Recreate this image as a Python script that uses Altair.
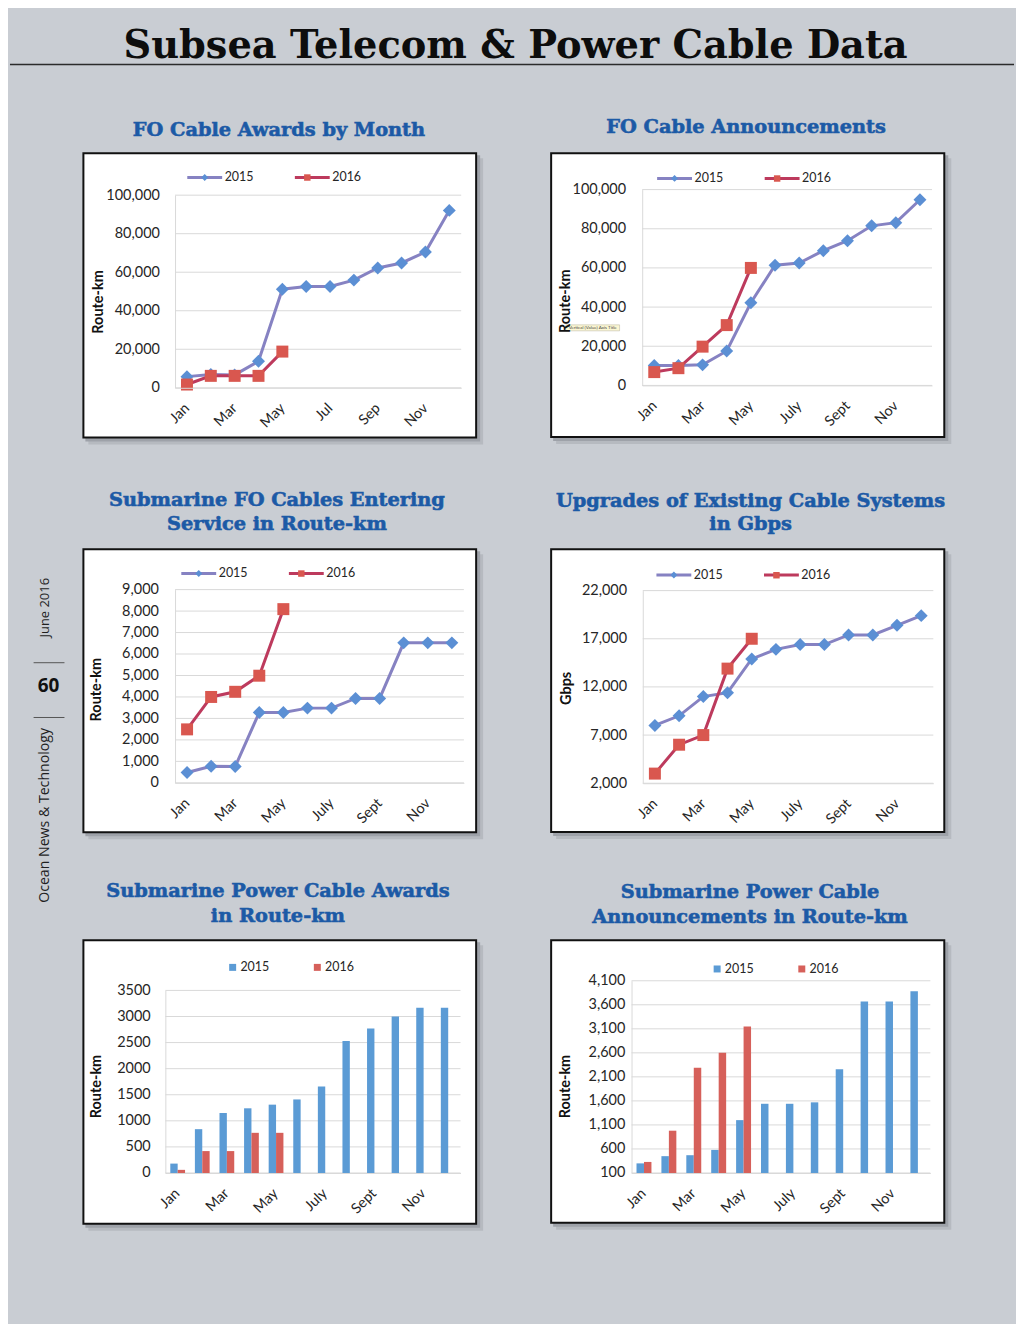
import altair as alt
import pandas as pd

# ---------------- data ----------------
months_short = ["Jan", "Feb", "Mar", "Apr", "May", "Jun", "Jul", "Aug", "Sep", "Oct", "Nov", "Dec"]
months_long = ["Jan", "Feb", "Mar", "Apr", "May", "Jun", "July", "Aug", "Sept", "Oct", "Nov", "Dec"]
shown_short = ["Jan", "Mar", "May", "Jul", "Sep", "Nov"]
shown_long = ["Jan", "Mar", "May", "July", "Sept", "Nov"]
years = ["2015", "2016"]

fo_awards_2015 = [5800, 6900, 6700, 13800, 51200, 52600, 52600, 55900, 62200, 64800, 70500, 92100]
fo_awards_2016 = [1700, 6200, 6200, 6200, 18800]
fo_announce_2015 = [10200, 10200, 10500, 17600, 42200, 61400, 62500, 68800, 73900, 81500, 83100, 94800]
fo_announce_2016 = [6800, 8800, 19800, 30800, 60000]
fo_service_2015 = [480, 770, 760, 3280, 3280, 3480, 3480, 3930, 3930, 6520, 6520, 6520]
fo_service_2016 = [2490, 4000, 4240, 4990, 8090]
upgrades_2015 = [8000, 9000, 11000, 11400, 14900, 15900, 16400, 16400, 17400, 17400, 18400, 19400]
upgrades_2016 = [3000, 6000, 7000, 13900, 17000]
power_awards_2015 = [180, 840, 1150, 1240, 1310, 1410, 1660, 2530, 2770, 3000, 3170, 3170]
power_awards_2016 = [60, 420, 420, 770, 770]
power_announce_2015 = [300, 450, 470, 580, 1200, 1540, 1540, 1570, 2260, 3670, 3670, 3880]
power_announce_2016 = [330, 980, 2290, 2600, 3150]

ticks_route = [0, 20000, 40000, 60000, 80000, 100000]
ticks_service = [0, 1000, 2000, 3000, 4000, 5000, 6000, 7000, 8000, 9000]
ticks_gbps = [2000, 7000, 12000, 17000, 22000]
ticks_power_awards = [0, 500, 1000, 1500, 2000, 2500, 3000, 3500]
ticks_power_announce = [100, 600, 1100, 1600, 2100, 2600, 3100, 3600, 4100]

page_title = "Subsea Telecom & Power Cable Data"
side_top = "June 2016"
side_page = "60"
side_bottom = "Ocean News & Technology"

# ---------------- styles ----------------
FONT = "Lato"
TFONT = "DejaVu Serif"
SFONT = "Open Sans"
BG = "#c9cdd3"
GRID = "#d9d9d9"
TXT = "#262626"
TITLE_BLUE = "#1c5aa6"
LINE_COLORS = ["#8682c2", "#bd3a5d"]
MARK_COLORS = ["#5b8fd4", "#d9574f"]
BAR_COLORS = ["#5b9bd5", "#d6605a"]
DIAMOND = "M0,-0.2L0.2,0L0,0.2L-0.2,0Z"
SQUARE = "M-0.185,-0.185H0.185V0.185H-0.185Z"

CELL_W, CELL_H = 396, 287
COL_GAP, ROW_GAP = 74, 108
X0, Y0 = 81, 149


def cell_origin(idx):
    r, c = divmod(idx, 2)
    return X0 + c * (CELL_W + COL_GAP), Y0 + r * (CELL_H + ROW_GAP)


ONE = pd.DataFrame({"d": [0]})


def rect(x1, y1, x2, y2, **kw):
    return alt.Chart(ONE).mark_rect(**kw).encode(
        x=alt.value(x1), x2=alt.value(x2), y=alt.value(y1), y2=alt.value(y2))


def rule(x1, y1, x2, y2, **kw):
    return alt.Chart(ONE).mark_rule(**kw).encode(
        x=alt.value(x1), x2=alt.value(x2), y=alt.value(y1), y2=alt.value(y2))


def label(x, y, txt, **kw):
    return alt.Chart(ONE).mark_text(text=txt, **kw).encode(x=alt.value(x), y=alt.value(y))


panels = [
    dict(kind="line", months=months_short, shown=shown_short, s15=fo_awards_2015, s16=fo_awards_2016,
         ticks=ticks_route, fmt=",.0f", box=(80.7, 149.3, 477, 436.7), plot=(173.7, 192.3, 461, 385.7),
         title=["FO Cable Awards by Month"], tcx=278, tbase=[132.7], ytitle="Route-km",
         ytc=(97, 299), leg=(186, 175.7), lpad=15.7),
    dict(kind="line", months=months_long, shown=shown_long, s15=fo_announce_2015, s16=fo_announce_2016,
         ticks=ticks_route, fmt=",.0f", box=(550.3, 149.3, 947, 436), plot=(642.7, 186.7, 933.7, 383.3),
         title=["FO Cable Announcements"], tcx=747, tbase=[130], ytitle="Route-km",
         ytc=(565.3, 298.3), leg=(657.7, 176.7), lpad=16.7),
    dict(kind="line", months=months_long, shown=shown_long, s15=fo_service_2015, s16=fo_service_2016,
         ticks=ticks_service, fmt=",.0f", box=(80.7, 546.7, 477, 833), plot=(173.7, 588.3, 463.7, 782.3),
         title=["Submarine FO Cables Entering", "Service in Route-km"], tcx=276, tbase=[504, 528.3],
         ytitle="Route-km", ytc=(95.3, 688.3), leg=(180, 573.3), lpad=16.7),
    dict(kind="line", months=months_long, shown=shown_long, s15=upgrades_2015, s16=upgrades_2016,
         ticks=ticks_gbps, fmt=",.0f", box=(550.3, 546.7, 947, 832.7), plot=(643.3, 589.3, 935, 782.7),
         title=["Upgrades of Existing Cable Systems", "in Gbps"], tcx=751.5, tbase=[505, 528.3],
         ytitle="Gbps", ytc=(566.7, 687), leg=(657, 575), lpad=16.3),
    dict(kind="bar", months=months_long, shown=shown_long, s15=power_awards_2015, s16=power_awards_2016,
         ticks=ticks_power_awards, fmt="d", box=(80.7, 939.3, 477, 1226), plot=(164, 990.7, 460.3, 1174),
         title=["Submarine Power Cable Awards", "in Route-km"], tcx=277, tbase=[897.3, 921.7],
         ytitle="Route-km", ytc=(94.7, 1086.7), leg=(231.3, 966.7), lpad=15.3),
    dict(kind="bar", months=months_long, shown=shown_long, s15=power_announce_2015, s16=power_announce_2016,
         ticks=ticks_power_announce, fmt=",.0f", box=(550.3, 939.3, 947, 1225), plot=(632, 981, 932, 1174),
         title=["Submarine Power Cable", "Announcements in Route-km"], tcx=751, tbase=[898.3, 922.7],
         ytitle="Route-km", ytc=(565.3, 1086.7), leg=(717.7, 968.3), lpad=6.7),
]


def build_panel(idx, p):
    ox, oy = cell_origin(idx)
    L = lambda x: x - ox
    T = lambda y: y - oy
    pl, pt, pr, pb = p["plot"]
    bl, bt, br, bb = p["box"]
    xr = [L(pl), L(pr)]
    yr = [T(pb), T(pt)]
    dom = [p["ticks"][0], p["ticks"][-1]]

    rows = []
    for yr_name, vals in zip(years, [p["s15"], p["s16"]]):
        for j, v in enumerate(vals):
            rows.append({"m": p["months"][j], "i": j, "val": v, "s": yr_name, "k": yr_name})
    df = pd.DataFrame(rows)

    ys = alt.Scale(domain=dom, range=yr, nice=False, zero=False)
    xaxis = alt.Axis(values=p["shown"], labelAngle=315, labelAlign="right", labelBaseline="middle",
                     labelPadding=18, ticks=False, domain=True, domainColor=GRID, domainWidth=1,
                     grid=False, title=None, offset=T(pb) - CELL_H, labelFont=FONT,
                     labelFontSize=14.5, labelColor=TXT, labelOverlap=False, zindex=1)
    yaxis = alt.Axis(values=p["ticks"], format=p["fmt"], ticks=False, domain=True, domainColor=GRID,
                     domainWidth=1, grid=False, offset=-L(pl), labelPadding=p["lpad"],
                     labelFont=FONT, labelFontSize=14.5, labelColor=TXT, labelOverlap=False,
                     title=p["ytitle"], titleFont=FONT, titleFontSize=14.5, titleFontWeight="bold",
                     titleColor="#111111", titleAngle=270, titleAlign="center", titleBaseline="middle",
                     titleX=p["ytc"][0] - pl, titleY=T(p["ytc"][1]), zindex=1)

    layers = []
    if idx == 0:
        # page frame, page title, rule and side strap
        layers.append(rect(L(8), T(8), L(1016), T(1322), color=BG))
        layers.append(label(L(515.5), T(54.3), page_title, font=TFONT, fontSize=38.5, fontWeight="bold",
                            color="#0d0d0d", align="center", baseline="alphabetic"))
        layers.append(rule(L(8), T(61), L(1016), T(61), color="#2b2b2b", strokeWidth=1.5))
        layers.append(label(L(43.3), T(606.5), side_top, angle=270, font=SFONT, fontSize=13,
                            color="#1f1f1f", align="center", baseline="middle"))
        layers.append(label(L(46.7), T(685), side_page, font=SFONT, fontSize=19, fontWeight="bold",
                            color="#111111", align="center", baseline="middle"))
        layers.append(label(L(43.3), T(815), side_bottom, angle=270, font=SFONT, fontSize=14.2,
                            color="#1f1f1f", align="center", baseline="middle"))
        layers.append(rule(L(31.7), T(661.7), L(62.7), T(661.7), color="#555555", strokeWidth=1))
        layers.append(rule(L(31.7), T(716.7), L(62.7), T(716.7), color="#555555", strokeWidth=1))

    # panel title
    for line_txt, base in zip(p["title"], p["tbase"]):
        layers.append(label(L(p["tcx"]), T(base), line_txt, font=TFONT, fontSize=19.4, fontWeight="bold",
                            color=TITLE_BLUE, stroke=TITLE_BLUE, strokeWidth=0.6,
                            align="center", baseline="alphabetic"))
    # box with shadow
    layers.append(rect(L(bl) + 6, T(bt) + 6, L(br) + 6, T(bb) + 6, color="#b6bac0"))
    layers.append(rect(L(bl) + 3, T(bt) + 3, L(br) + 3, T(bb) + 3, color="#9ea2a9"))
    layers.append(rect(L(bl) + 1, T(bt) + 1, L(br) - 1, T(bb) - 1, fill="white", stroke="#111111",
                       strokeWidth=2))
    # grid
    layers.append(alt.Chart(pd.DataFrame({"v": p["ticks"]})).mark_rule(color=GRID, strokeWidth=1).encode(
        y=alt.Y("v:Q", scale=ys, axis=yaxis), x=alt.value(xr[0]), x2=alt.value(xr[1])))

    if p["kind"] == "line":
        xs = alt.Scale(type="point", domain=p["months"], range=xr, padding=0.5)
        lx, ly = p["leg"]
        common = dict(orient="none", legendX=L(lx) - 1.5, legendY=T(ly) - 20.5, direction="horizontal",
                      title=None, symbolSize=1225, symbolStrokeWidth=3, labelFont=FONT,
                      labelFontSize=12.5, labelColor=TXT, labelOffset=1, padding=0)
        line_leg = alt.Legend(symbolType="M-1,0H1", zindex=1, columnPadding=35, **common)
        mark_leg = alt.Legend(symbolStrokeColor="transparent", labelExpr="''", zindex=2,
                              columnPadding=64, **common)
        lines = alt.Chart(df).mark_line(strokeWidth=3).encode(
            x=alt.X("m:N", scale=xs, axis=xaxis),
            y=alt.Y("val:Q", scale=ys, axis=yaxis),
            stroke=alt.Stroke("s:N", scale=alt.Scale(range=LINE_COLORS), legend=line_leg),
            order=alt.Order("i:Q"),
        )
        pts = alt.Chart(df).mark_point(filled=True, size=4225, opacity=1).encode(
            x=alt.X("m:N", scale=xs, axis=xaxis),
            y=alt.Y("val:Q", scale=ys, axis=yaxis),
            fill=alt.Fill("k:N", scale=alt.Scale(range=MARK_COLORS), legend=mark_leg),
            shape=alt.Shape("k:N", scale=alt.Scale(range=[DIAMOND, SQUARE]), legend=mark_leg),
        )
        layers += [lines, pts]
    else:
        xs = alt.Scale(type="band", domain=p["months"], range=xr, paddingInner=0.4, paddingOuter=0.2)
        lx, ly = p["leg"]
        bar_leg = alt.Legend(orient="none", legendX=L(lx) - 6, legendY=T(ly) - 5.5,
                             direction="horizontal", title=None, symbolType="square", symbolSize=49,
                             symbolStrokeWidth=0, labelFont=FONT, labelFontSize=12.5, labelColor=TXT,
                             labelOffset=1.5, columnPadding=42, padding=0, zindex=1)
        bars = alt.Chart(df).mark_bar().encode(
            x=alt.X("m:N", scale=xs, axis=xaxis),
            xOffset=alt.XOffset("k:N", scale=alt.Scale(paddingInner=0)),
            y=alt.Y("val:Q", scale=ys, axis=yaxis),
            y2=alt.datum(dom[0]),
            fill=alt.Fill("k:N", scale=alt.Scale(range=BAR_COLORS), legend=bar_leg),
        )
        layers.append(bars)

    if idx == 1:
        # the little Excel tooltip left over on the axis title
        layers.append(rect(L(566), T(322.5), L(620), T(328.5), fill="#fbf6d2", stroke="#b5b09a",
                           strokeWidth=0.5))
        layers.append(label(L(593), T(325.6), "Vertical (Value) Axis Title", font=FONT, fontSize=4.5,
                            color="#444444", align="center", baseline="middle"))

    return alt.layer(*layers).properties(width=CELL_W, height=CELL_H)


charts = [build_panel(i, p) for i, p in enumerate(panels)]

chart = alt.concat(
    *charts, columns=2, spacing=alt.RowColnumber(row=ROW_GAP, column=COL_GAP),
    bounds="flush", align="all",
).resolve_scale(
    x="independent", y="independent", fill="independent", stroke="independent",
    shape="independent", xOffset="independent",
).resolve_legend(
    fill="independent", stroke="independent", shape="independent",
).resolve_axis(
    x="independent", y="independent",
).properties(
    background=BG, padding=0, autosize=alt.AutoSizeParams(type="pad"),
).configure_view(stroke="transparent")

chart.save("out.html", embed_options={"renderer": "svg", "actions": False})
